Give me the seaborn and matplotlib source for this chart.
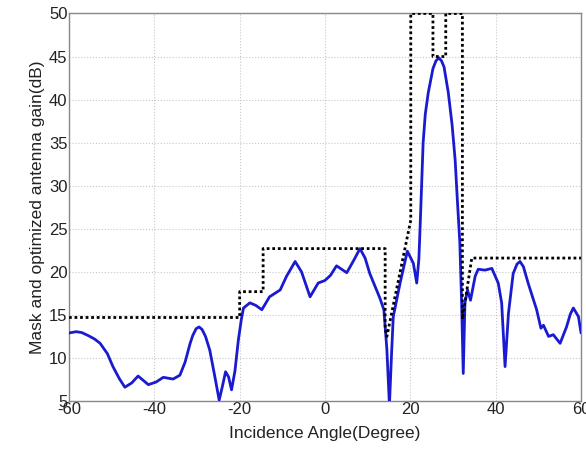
import matplotlib
matplotlib.use("Agg")
import matplotlib.pyplot as plt
import seaborn as sns
import pandas as pd

# Optimized antenna gain (blue curve)
gain_angle = [-60, -58.3, -57.0, -55.5, -54.0, -52.7, -51.0, -49.7, -48.2, -46.9, -45.3, -43.8,
              -42.6, -41.4, -39.6, -37.9, -35.6, -34.0, -32.8, -31.6, -31.0, -30.2, -29.5,
              -28.8, -28.0, -27.0, -25.8, -24.8, -24.0, -23.3, -22.6, -21.9, -21.1, -20.3,
              -19.6, -19.1, -17.6, -16.2, -14.8, -13.0, -10.5, -9.0, -7.0, -5.5, -3.5, -1.6,
              0.0, 1.3, 2.7, 5.1, 6.7, 8.2, 9.4, 10.5, 12.9, 13.8, 14.5, 15.1, 15.6, 16.0,
              17.6, 19.3, 20.7, 21.5, 22.0, 22.3, 23.0, 23.5, 24.2, 25.3, 26.0, 26.7, 27.3,
              27.9, 28.9, 29.8, 30.5, 31.0, 31.6, 32.0, 32.4, 32.8, 33.4, 34.1, 35.2, 35.9,
              37.5, 39.1, 40.6, 41.4, 42.2, 43.0, 44.1, 45.0, 45.7, 46.5, 47.6, 49.6, 50.6,
              51.2, 52.4, 53.5, 55.1, 56.6, 57.5, 58.2, 59.4, 60.0]
gain_db = [12.9, 13.05, 12.95, 12.6, 12.2, 11.7, 10.5, 9.0, 7.6, 6.6, 7.1, 7.9,
           7.4, 6.9, 7.2, 7.75, 7.55, 8.0, 9.5, 11.7, 12.6, 13.4, 13.6,
           13.3, 12.5, 10.9, 7.8, 5.1, 6.8, 8.4, 7.8, 6.3, 8.5, 12.1,
           14.5, 15.8, 16.4, 16.1, 15.6, 17.1, 17.9, 19.5, 21.2, 20.0, 17.1, 18.7,
           19.0, 19.6, 20.7, 19.9, 21.3, 22.7, 21.6, 19.8, 16.9, 15.6, 11.0, 4.5, 10.5, 14.8,
           18.7, 22.4, 21.0, 18.7, 21.5, 25.3, 35.0, 38.3, 40.8, 43.6, 44.5, 44.85, 44.5,
           43.8, 40.8, 37.0, 33.0, 28.5, 23.4, 16.7, 8.2, 16.4, 17.9, 16.7, 19.5, 20.3,
           20.2, 20.4, 18.7, 16.4, 9.0, 15.2, 19.8, 20.9, 21.2, 20.6, 18.7, 15.6, 13.45,
           13.8, 12.5, 12.7, 11.7, 13.6, 15.1, 15.8, 14.8, 12.9]

# Mask (black dotted)
mask_angle = [-60, -20, -20, -14.5, -14.5, 14.1, 14.1, 14.5, 20.1, 20.1, 25.3, 25.3,
              28.3, 28.3, 32.2, 32.2, 34.4, 60]
mask_db = [14.7, 14.7, 17.7, 17.7, 22.7, 22.7, 13.5, 12.5, 26.0, 50.0, 50.0, 45.0,
           45.0, 50.0, 50.0, 14.5, 21.6, 21.6]

x_ticks = [-60, -40, -20, 0, 20, 40, 60]
y_ticks = [5, 10, 15, 20, 25, 30, 35, 40, 45, 50]

sns.set_style("white")
plt.rcParams['font.family'] = ['Liberation Sans', 'DejaVu Sans']
plt.rcParams['axes.unicode_minus'] = False

fig = plt.figure(figsize=(5.86, 4.54), dpi=100)
ax = fig.add_axes([0.1177, 0.1167, 0.8738, 0.8536])

gain_df = pd.DataFrame({"angle": gain_angle, "gain": gain_db})
mask_df = pd.DataFrame({"angle": mask_angle, "gain": mask_db})

sns.lineplot(data=gain_df, x="angle", y="gain", sort=False, estimator=None,
             color="#1a1ad0", linewidth=2.0, ax=ax, zorder=3)
sns.lineplot(data=mask_df, x="angle", y="gain", sort=False, estimator=None,
             color="black", linewidth=2.0, linestyle=(0, (1, 1)), ax=ax, zorder=4)

ax.set_xlim(-60, 60)
ax.set_ylim(5, 50)
ax.set_xticks(x_ticks)
ax.set_yticks(y_ticks)
ax.grid(True, color="#c8c8c8", linestyle=":", linewidth=0.8)
ax.tick_params(direction="in", length=3, labelsize=12, pad=1, color="#555555",
               labelcolor="#222222")
for s in ax.spines.values():
    s.set_color("#888888")
    s.set_linewidth(1.0)
ax.set_xlabel("Incidence Angle(Degree)", fontsize=12.5, labelpad=6, color="#222222")
ax.set_ylabel("Mask and optimized antenna gain(dB)", fontsize=12.5, labelpad=3, color="#222222")

fig.savefig("out.png", dpi=100)
